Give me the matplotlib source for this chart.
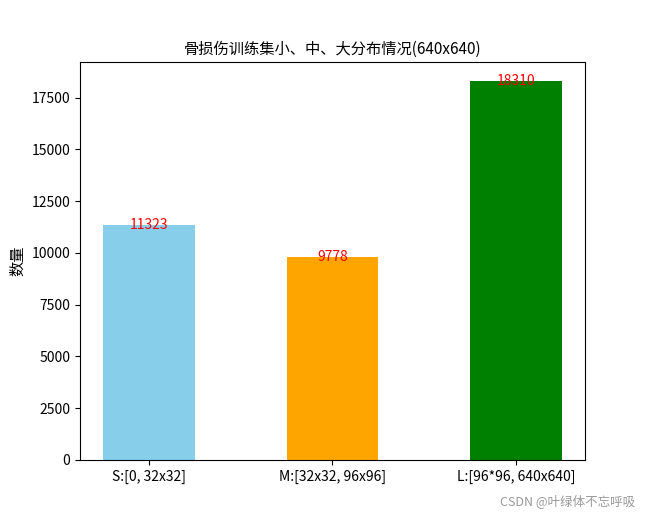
import matplotlib
matplotlib.use("Agg")
import matplotlib.pyplot as plt

plt.rcParams['font.family'] = ['Noto Sans CJK SC', 'DejaVu Sans']

categories = ["S:[0, 32x32]", "M:[32x32, 96x96]", "L:[96*96, 640x640]"]
counts = [11323, 9778, 18310]
colors = ["skyblue", "orange", "green"]

fig = plt.figure(figsize=(6.45, 5.16), dpi=100)
ax = fig.add_axes([0.124, 0.109, 0.783, 0.771])
bars = ax.bar(range(len(counts)), counts, width=0.5, color=colors)
for i, v in enumerate(counts):
    ax.text(i, v, str(v), ha="center", va="center", color="red", fontsize=10)
ax.set_xticks(range(len(counts)))
ax.set_xticklabels(categories, fontsize=10)
ax.tick_params(axis="y", labelsize=10)
ax.set_ylabel("数量", fontsize=11)
ax.set_title("骨损伤训练集小、中、大分布情况(640x640)", fontsize=11)
fig.text(0.985, 0.015, "CSDN @叶绿体不忘呼吸", ha="right", va="bottom",
         color="#999999", fontsize=9)
fig.savefig("out.png", dpi=100)
